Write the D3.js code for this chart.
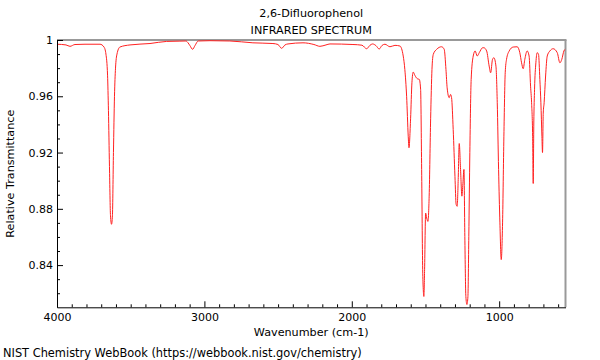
<!DOCTYPE html>
<html><head><meta charset="utf-8">
<script src="https://cdn.jsdelivr.net/npm/d3@7"></script>
<style>
html,body{margin:0;padding:0;background:#fff;}
text{font-family:"DejaVu Sans",sans-serif;fill:#000;}
</style></head>
<body><svg id="c" width="600" height="360"></svg>
<script>
const title1 = "2,6-Difluorophenol";
const title2 = "INFRARED SPECTRUM";
const xLabel = "Wavenumber (cm-1)";
const yLabel = "Relative Transmittance";
const credit = "NIST Chemistry WebBook (https://webbook.nist.gov/chemistry)";
const xTicks = [4000, 3000, 2000, 1000];
const yTicks = [1, 0.96, 0.92, 0.88, 0.84];

const wavenumber = [4000,3939,3912,3878,3810,3708,3681,3668,3657,3651,3644,3637,3630,3624,3617,3610,3603,3593,3573,3505,3369,3256,3166,3125,3111,3098,3080,3064,3042,2962,2827,2671,2535,2501,2476,2453,2433,2331,2257,2216,2175,2148,1992,1931,1899,1877,1859,1836,1814,1796,1775,1741,1707,1673,1651,1640,1628,1617,1612,1601,1592,1583,1572,1556,1542,1533,1526,1519,1515,1511,1506,1499,1492,1483,1475,1465,1456,1447,1424,1391,1373,1361,1353,1339,1330,1323,1312,1300,1292,1285,1278,1271,1262,1253,1246,1239,1233,1226,1219,1212,1206,1199,1190,1176,1163,1149,1135,1112,1104,1085,1068,1058,1045,1036,1022,1013,1004,995,986,977,968,959,950,932,905,878,860,848,837,826,810,797,787,780,773,769,765,760,751,742,733,724,717,710,706,701,695,685,674,656,634,606,588,575,561,552];
const transmittance = [0.997,0.9965,0.9955,0.9968,0.997,0.997,0.995,0.99,0.975,0.95,0.91,0.875,0.869,0.875,0.92,0.96,0.98,0.99,0.995,0.9965,0.9975,0.999,0.9992,0.9993,0.998,0.996,0.9934,0.996,0.9993,0.9995,0.9993,0.998,0.9975,0.9968,0.9941,0.9965,0.9972,0.998,0.9968,0.9955,0.9965,0.9972,0.9968,0.9963,0.9938,0.9962,0.9972,0.996,0.9936,0.996,0.997,0.9952,0.9962,0.9957,0.9886,0.979,0.96,0.9316,0.9234,0.944,0.9696,0.9772,0.9749,0.9725,0.972,0.965,0.908,0.837,0.8227,0.8177,0.837,0.877,0.8735,0.871,0.889,0.944,0.979,0.9898,0.9934,0.9952,0.9934,0.979,0.966,0.959,0.9613,0.959,0.9364,0.903,0.8832,0.8818,0.9008,0.9264,0.908,0.889,0.898,0.908,0.8604,0.8177,0.812,0.8177,0.8604,0.92,0.972,0.9886,0.9922,0.9886,0.991,0.9945,0.9945,0.9922,0.9815,0.9767,0.9863,0.9874,0.9815,0.9554,0.908,0.870,0.8439,0.870,0.9316,0.9767,0.9863,0.9922,0.995,0.9952,0.991,0.9838,0.9796,0.9863,0.9922,0.9886,0.9672,0.9554,0.9316,0.898,0.941,0.965,0.9838,0.991,0.9898,0.972,0.9554,0.9316,0.920,0.948,0.9554,0.9744,0.9886,0.9922,0.9938,0.991,0.9838,0.9863,0.9922,0.9935];

const svg = d3.select("#c");
const L = 57, R = 565.5, T = 40, B = 307.3;
const FS = 11.2;
const x = d3.scaleLinear().domain([4000, 550]).range([L, R]);
const y = d3.scaleLinear().domain([0.81, 1]).range([B, T]);

// titles
svg.append("text").attr("x", (L+R)/2).attr("y", 17).attr("text-anchor","middle").attr("font-size",FS).text(title1);
svg.append("text").attr("x", (L+R)/2).attr("y", 34).attr("text-anchor","middle").attr("font-size",FS).text(title2);

// frame: top and right gray
svg.append("line").attr("x1",L).attr("x2",R+1).attr("y1",T).attr("y2",T).attr("stroke","#999").attr("stroke-width",2);
svg.append("line").attr("x1",R).attr("x2",R).attr("y1",T).attr("y2",B).attr("stroke","#999").attr("stroke-width",2);

// spectrum
const data = wavenumber.map((w,i)=>[w, transmittance[i]]);
const g = svg.append("g");
g.append("clipPath").attr("id","clip").append("rect").attr("x",L).attr("y",T).attr("width",R-L).attr("height",B-T);
g.append("path").datum(data)
  .attr("clip-path","url(#clip)")
  .attr("fill","none").attr("stroke","#ff2020").attr("stroke-width",1)
  .attr("d", d3.line().x(d=>x(d[0])).y(d=>y(d[1])).curve(d3.curveMonotoneX));

// axes (ticks inward)
const xMinor = d3.range(4000, 549, -100).filter(v=>!xTicks.includes(v));
const yMinor = d3.range(0.82, 1.0, 0.01).map(v=>+v.toFixed(2)).filter(v=>!yTicks.includes(v));

const xa = svg.append("g").attr("transform",`translate(0,${B})`)
  .call(d3.axisBottom(x).tickValues(xTicks).tickSizeInner(-6).tickSizeOuter(0).tickPadding(6).tickFormat(d3.format("d")));
xa.select(".domain").attr("stroke","#000");
xa.selectAll("text").attr("font-size",11).attr("font-family","DejaVu Sans").attr("dy","0.71em").attr("y",6);
const xm = svg.append("g").attr("transform",`translate(0,${B})`)
  .call(d3.axisBottom(x).tickValues(xMinor).tickSizeInner(-3).tickSizeOuter(0).tickFormat(""));
xm.select(".domain").remove();

const ya = svg.append("g").attr("transform",`translate(${L},0)`)
  .call(d3.axisLeft(y).tickValues(yTicks).tickSizeInner(-6).tickSizeOuter(0).tickPadding(5).tickFormat(d3.format("~g")));
ya.select(".domain").attr("stroke","#000");
ya.selectAll("text").attr("font-size",11).attr("font-family","DejaVu Sans").attr("x",-4);
const ym = svg.append("g").attr("transform",`translate(${L},0)`)
  .call(d3.axisLeft(y).tickValues(yMinor).tickSizeInner(-3).tickSizeOuter(0).tickFormat(""));
ym.select(".domain").remove();

// axis labels
svg.append("text").attr("x",(L+R)/2).attr("y",336).attr("text-anchor","middle").attr("font-size",FS).text(xLabel);
svg.append("text").attr("transform",`translate(14,${(T+B)/2}) rotate(-90)`).attr("text-anchor","middle").attr("font-size",FS).text(yLabel);
svg.append("text").attr("x",3).attr("y",357).attr("font-size",11.4).text(credit);
</script></body></html>
